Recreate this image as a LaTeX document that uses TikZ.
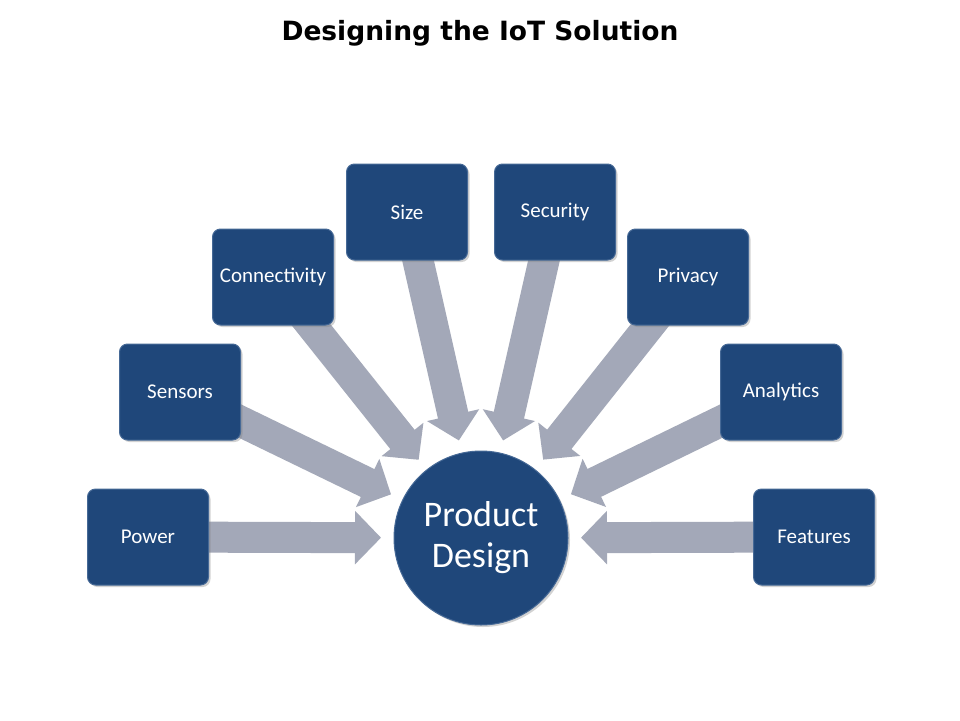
\documentclass[tikz,border=0pt]{standalone}
\usepackage{fontspec}
\setmainfont{Carlito}
\newfontfamily\titlefont{DejaVu Sans}
\usetikzlibrary{arrows.meta,calc,shadows}
\definecolor{boxblue}{RGB}{31,71,122}
\definecolor{boxedge}{RGB}{70,105,150}
\definecolor{arrowgray}{RGB}{163,168,184}
\begin{document}
\begin{tikzpicture}[x=1pt,y=-1pt,
  factor/.style={rectangle, rounded corners=8pt, fill=boxblue, draw=boxedge, line width=1pt,
    minimum width=121pt, minimum height=96pt, text=white, font=\fontsize{21}{24}\selectfont,
    drop shadow={shadow xshift=2pt, shadow yshift=-2pt, opacity=0.35}},
  hub/.style={circle, fill=boxblue, draw=boxedge, line width=1pt, minimum size=174pt,
    text=white, align=center, font=\fontsize{36}{41}\selectfont,
    drop shadow={shadow xshift=2pt, shadow yshift=-2pt, opacity=0.35}},
  feed/.style={draw=arrowgray, line width=31pt, -{Triangle[length=26pt,width=52pt]}},
  heading/.style={font=\titlefont\bfseries\fontsize{26.5}{30}\selectfont}]
\useasboundingbox (0,0) rectangle (960,720);
\fill[white] (0,0) rectangle (960,720);

\node[heading] (title) at (480,33) {Designing the IoT Solution};

\coordinate (cPower) at (148,537);
\coordinate (cSensors) at (180,392);
\coordinate (cConn) at (273,277);
\coordinate (cSize) at (407,212);
\coordinate (cSec) at (555,212);
\coordinate (cPriv) at (688,277);
\coordinate (cAnal) at (781,392);
\coordinate (cFeat) at (814,537);
\coordinate (cHub) at (481,538);

% arrows
\foreach \c in {cPower,cSensors,cConn,cSize,cSec,cPriv,cAnal,cFeat}
  \draw[feed] (\c) -- ($(cHub)!100pt!(\c)$);

\node[hub] (pd) at (cHub) {Product\\Design};

\node[factor] (power) at (cPower) {Power};
\node[factor] (sensors) at (cSensors) {Sensors};
\node[factor] (conn) at (cConn) {Connectivity};
\node[factor] (size) at (cSize) {Size};
\node[factor] (sec) at (cSec) {Security};
\node[factor] (priv) at (cPriv) {Privacy};
\node[factor] (anal) at (cAnal) {Analytics};
\node[factor] (feat) at (cFeat) {Features};
\end{tikzpicture}
\end{document}
